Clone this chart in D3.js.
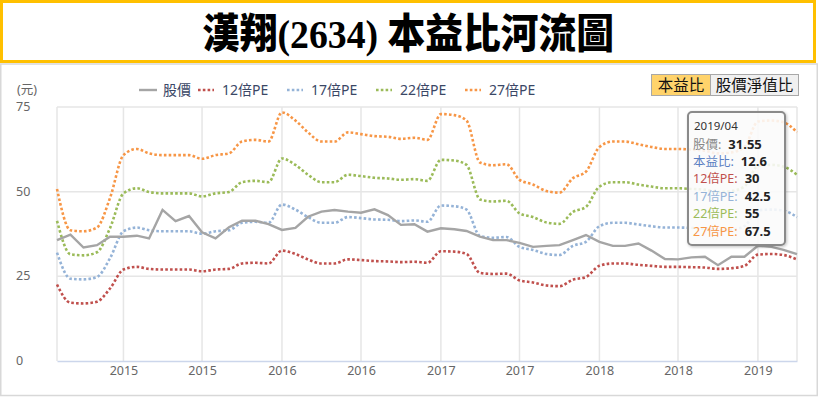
<!DOCTYPE html>
<html lang="zh-Hant">
<head>
    <meta charset="UTF-8">
    <title>漢翔(2634) 本益比河流圖</title>
    <style>
        body {
            margin: 0;
            padding: 0;
            background: #ffffff;
            overflow: hidden;
        }
        svg text {
            font-family: "Noto Sans", "Noto Sans CJK TC", sans-serif;
        }
    </style>
    <script src="https://d3js.org/d3.v7.min.js"></script>
</head>
<body>
    <div id="chart"></div>

    <script>
        // Monthly data, 2014/08 .. 2019/04
        const startMonth = "2014-08";
        const endMonth = "2019-04";

        const price = [35.7, 37.3, 33.5, 34.2, 36.7, 36.7, 37.0, 36.2, 44.6, 41.3,
                       42.8, 38.0, 36.2, 39.5, 41.4, 41.4, 40.4, 38.7, 39.3, 42.6,
                       44.1, 44.6, 44.1, 43.8, 44.8, 43.1, 40.2, 40.4, 38.2, 39.2,
                       38.9, 38.4, 36.7, 35.7, 35.7, 34.9, 33.7, 34.0, 34.2, 35.7,
                       37.2, 35.2, 34.0, 34.0, 34.7, 32.6, 30.1, 30.0, 30.6, 30.8,
                       28.3, 30.8, 30.8, 34.0, 33.7, 32.8, 31.55];

        const pe12 = [22.6, 17.2, 17.0, 17.5, 21.4, 27.0, 27.8, 27.2, 27.0, 27.0,
                      27.0, 26.5, 27.0, 27.2, 28.8, 29.0, 28.8, 32.6, 31.6, 30.0,
                      28.8, 28.8, 30.0, 29.8, 29.5, 29.4, 29.2, 29.3, 29.0, 32.4,
                      32.3, 31.6, 26.0, 25.7, 25.8, 23.8, 23.2, 22.3, 22.1, 24.0,
                      24.8, 28.1, 28.8, 28.8, 28.4, 28.1, 27.8, 27.8, 27.7, 27.6,
                      27.2, 27.4, 28.1, 31.4, 31.6, 31.3, 30.0];

        const pe17 = [32.0, 24.3, 24.1, 24.8, 30.3, 38.3, 39.4, 38.6, 38.3, 38.3,
                      38.3, 37.6, 38.3, 38.6, 40.8, 41.1, 40.8, 46.2, 44.7, 42.5,
                      40.8, 40.8, 42.5, 42.2, 41.8, 41.7, 41.3, 41.5, 41.1, 45.9,
                      45.7, 44.7, 36.9, 36.4, 36.6, 33.7, 32.8, 31.6, 31.3, 34.0,
                      35.2, 39.8, 40.8, 40.8, 40.3, 39.8, 39.4, 39.4, 39.3, 39.1,
                      38.6, 38.8, 39.8, 44.5, 44.7, 44.4, 42.5];

        const pe22 = [41.4, 31.5, 31.2, 32.1, 39.2, 49.5, 51.0, 49.9, 49.5, 49.5,
                      49.5, 48.6, 49.5, 49.9, 52.8, 53.2, 52.8, 59.8, 57.9, 55.0,
                      52.8, 52.8, 55.0, 54.6, 54.1, 53.9, 53.5, 53.7, 53.2, 59.4,
                      59.2, 57.9, 47.7, 47.1, 47.3, 43.6, 42.5, 40.9, 40.5, 44.0,
                      45.5, 51.5, 52.8, 52.8, 52.1, 51.5, 51.0, 51.0, 50.8, 50.6,
                      49.9, 50.2, 51.5, 57.6, 57.9, 57.4, 55.0];

        const pe27 = [50.8, 38.6, 38.3, 39.4, 48.1, 60.8, 62.6, 61.3, 60.8, 60.8,
                      60.8, 59.7, 60.8, 61.3, 64.8, 65.3, 64.8, 73.4, 71.0, 67.5,
                      64.8, 64.8, 67.5, 67.0, 66.4, 66.2, 65.6, 65.9, 65.3, 72.9,
                      72.6, 71.0, 58.6, 57.8, 58.1, 53.5, 52.1, 50.2, 49.7, 54.0,
                      55.9, 63.2, 64.8, 64.8, 64.0, 63.2, 62.6, 62.6, 62.4, 62.1,
                      61.3, 61.6, 63.2, 70.7, 71.0, 70.5, 67.5];

        const yTicks = [0, 25, 50, 75];
        const lastPE = 12.6;

        const seriesNames = ["股價", "12倍PE", "17倍PE", "22倍PE", "27倍PE"];
        const seriesColors = ["#a5a5a5", "#c0504d", "#95b3d7", "#9bbb59", "#f79646"];

        // ---------------------------------------------------------------

        const width = 818;
        const height = 397;
        const parseMonth = d3.timeParse("%Y-%m");
        const months = d3.timeMonth.range(parseMonth(startMonth), d3.timeMonth.offset(parseMonth(endMonth), 1));

        const svg = d3.select("#chart")
            .append("svg")
            .attr("width", width)
            .attr("height", height);

        // title box
        svg.append("rect")
            .attr("x", 1.5).attr("y", 1.5)
            .attr("width", 813).attr("height", 60)
            .attr("fill", "#fff")
            .attr("stroke", "#ffc000")
            .attr("stroke-width", 3);

        svg.append("text")
            .attr("x", 408).attr("y", 48)
            .attr("text-anchor", "middle")
            .attr("textLength", 412)
            .attr("lengthAdjust", "spacingAndGlyphs")
            .style("font-family", "'Liberation Serif', 'Noto Sans CJK TC', serif")
            .style("font-weight", 900)
            .style("font-size", "41px")
            .style("fill", "#000")
            .text("漢翔(2634) 本益比河流圖");

        // chart panel
        svg.append("rect")
            .attr("x", 0.75).attr("y", 64)
            .attr("width", 816.5).attr("height", 331.5)
            .attr("fill", "#fff")
            .attr("stroke", "#d8d8d8")
            .attr("stroke-width", 1.5);

        const x = d3.scaleTime()
            .domain([months[0], months[months.length - 1]])
            .range([57, 797]);

        const y = d3.scaleLinear()
            .domain([0, 75])
            .range([361, 107]);

        // horizontal grid
        svg.append("g")
            .selectAll("line")
            .data(yTicks.filter(d => d > 0))
            .join("line")
            .attr("x1", 57).attr("x2", 797)
            .attr("y1", d => y(d)).attr("y2", d => y(d))
            .attr("stroke", "#e6e6e6")
            .attr("stroke-width", 1.5);

        // vertical grid (every half year + plot edges)
        const xTicks = x.ticks(d3.timeMonth.every(6));
        svg.append("g")
            .selectAll("line")
            .data([x.domain()[0], ...xTicks, x.domain()[1]])
            .join("line")
            .attr("x1", d => x(d)).attr("x2", d => x(d))
            .attr("y1", 107).attr("y2", 361)
            .attr("stroke", "#e6e6e6")
            .attr("stroke-width", 1.5);

        // x axis
        const xAxis = svg.append("g")
            .attr("transform", "translate(0,361)")
            .call(d3.axisBottom(x).tickValues(xTicks).tickFormat(d3.timeFormat("%Y")).tickSize(0).tickPadding(5));
        xAxis.select(".domain").attr("stroke", "#ccd6eb").attr("stroke-width", 1.5);
        xAxis.selectAll("text")
            .style("font-size", "12.5px")
            .style("fill", "#666")
            .style("font-family", "'Noto Sans', sans-serif");

        // y labels
        svg.append("g")
            .selectAll("text")
            .data(yTicks)
            .join("text")
            .attr("x", 16)
            .attr("y", d => y(d) + 4)
            .style("font-size", "12.5px")
            .style("fill", "#666")
            .text(d => d);

        svg.append("text")
            .attr("x", 17).attr("y", 94)
            .style("font-size", "12.5px")
            .style("fill", "#666")
            .text("(元)");

        // lines
        const bands = [pe12, pe17, pe22, pe27];
        const smooth = d3.line()
            .x((d, i) => x(months[i]))
            .y(d => y(d))
            .curve(d3.curveMonotoneX);

        svg.append("g")
            .selectAll("path")
            .data(bands)
            .join("path")
            .attr("d", smooth)
            .attr("fill", "none")
            .attr("stroke", (d, i) => seriesColors[i + 1])
            .attr("stroke-width", 2.6)
            .attr("stroke-dasharray", "2.6,2.2");

        svg.append("path")
            .datum(price)
            .attr("d", d3.line().x((d, i) => x(months[i])).y(d => y(d)))
            .attr("fill", "none")
            .attr("stroke", seriesColors[0])
            .attr("stroke-width", 2.4);

        // legend
        const legendX = [139, 198, 287, 376, 465];
        const legend = svg.append("g")
            .selectAll("g")
            .data(seriesNames)
            .join("g")
            .attr("transform", (d, i) => `translate(${legendX[i]},90)`);

        legend.append("line")
            .attr("x1", 0).attr("x2", (d, i) => i === 0 ? 18 : 16)
            .attr("y1", 0).attr("y2", 0)
            .attr("stroke", (d, i) => seriesColors[i])
            .attr("stroke-width", (d, i) => i === 0 ? 2.4 : 2.6)
            .attr("stroke-dasharray", (d, i) => i === 0 ? null : "2.6,2.2");

        legend.append("text")
            .attr("x", 24)
            .attr("y", 5)
            .style("font-size", "14px")
            .style("fill", "#3a4766")
            .text(d => d);

        // buttons
        const buttons = [
            { label: "本益比", x: 651, w: 59, fill: "#ffd36b" },
            { label: "股價淨值比", x: 710, w: 88, fill: "#f0f0f0" }
        ];
        const btn = svg.append("g")
            .selectAll("g")
            .data(buttons)
            .join("g");
        btn.append("rect")
            .attr("x", d => d.x + 0.5).attr("y", 74.5)
            .attr("width", d => d.w).attr("height", 21)
            .attr("fill", d => d.fill)
            .attr("stroke", "#a8a8a8");
        btn.append("text")
            .attr("x", d => d.x + d.w / 2 + 0.5)
            .attr("y", 91)
            .attr("text-anchor", "middle")
            .style("font-size", "15.5px")
            .style("fill", "#111")
            .style("font-family", "'Noto Sans CJK TC', sans-serif")
            .text(d => d.label);

        // tooltip for the last month
        const last = months.length - 1;
        const tipRows = [
            { label: "股價", value: price[last], color: "#888888" },
            { label: "本益比", value: lastPE, color: "#5b7fc2" },
            { label: "12倍PE", value: pe12[last], color: "#c0504d" },
            { label: "17倍PE", value: pe17[last], color: "#95b3d7" },
            { label: "22倍PE", value: pe22[last], color: "#9bbb59" },
            { label: "27倍PE", value: pe27[last], color: "#f79646" }
        ];

        const defs = svg.append("defs");
        const shadow = defs.append("filter").attr("id", "shadow")
            .attr("x", "-20%").attr("y", "-20%").attr("width", "140%").attr("height", "140%");
        shadow.append("feDropShadow")
            .attr("dx", 1).attr("dy", 1).attr("stdDeviation", 1.5)
            .attr("flood-color", "#000").attr("flood-opacity", 0.25);

        const tip = svg.append("g");
        tip.append("rect")
            .attr("x", 688).attr("y", 112)
            .attr("width", 97).attr("height", 133)
            .attr("rx", 4)
            .attr("fill", "rgba(255,255,255,0.85)")
            .attr("stroke", "#8a8a8a")
            .attr("stroke-width", 2)
            .attr("filter", "url(#shadow)");

        tip.append("text")
            .attr("x", 694).attr("y", 130)
            .style("font-size", "11.5px")
            .style("fill", "#333")
            .text(d3.timeFormat("%Y/%m")(months[last]));

        const rowText = tip.append("g")
            .selectAll("text")
            .data(tipRows)
            .join("text")
            .attr("x", 693)
            .attr("y", (d, i) => 148.5 + i * 17.4)
            .style("font-size", "12.5px");
        rowText.append("tspan")
            .style("fill", d => d.color)
            .text(d => d.label + ":");
        rowText.append("tspan")
            .attr("dx", 7)
            .style("fill", "#222")
            .style("font-weight", "bold")
            .style("font-size", "13px")
            .text(d => d.value);
    </script>
</body>
</html>
